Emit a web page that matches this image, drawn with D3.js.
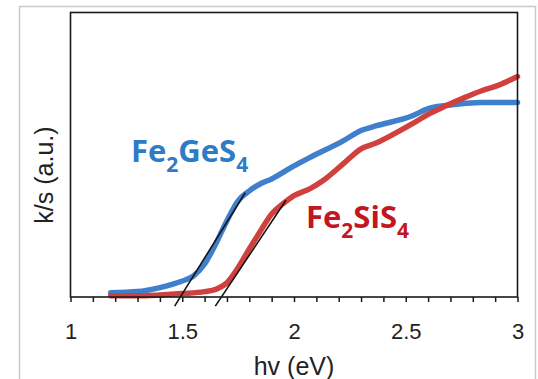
<!DOCTYPE html>
<html>
<head>
<meta charset="utf-8">
<script src="https://cdn.jsdelivr.net/npm/d3@7"></script>
<style>
body { margin: 0; background: #fff; }
svg { display: block; }
</style>
</head>
<body>
<svg id="chart"></svg>
<script>
// values (y in arbitrary units, 0 = baseline)
var geEnergy = [1.18, 1.3, 1.4, 1.5, 1.55, 1.6, 1.65, 1.7, 1.75, 1.8, 1.85, 1.9, 2.0, 2.07, 2.22, 2.3, 2.37, 2.53, 2.6, 2.68, 2.76, 2.84, 3.0];
var geKs = [0.015, 0.019, 0.033, 0.056, 0.074, 0.116, 0.187, 0.268, 0.338, 0.373, 0.398, 0.415, 0.461, 0.49, 0.549, 0.585, 0.602, 0.637, 0.662, 0.673, 0.68, 0.684, 0.684];

var siEnergy = [1.18, 1.3, 1.4, 1.5, 1.6, 1.65, 1.7, 1.75, 1.8, 1.85, 1.9, 1.95, 2.0, 2.07, 2.14, 2.22, 2.3, 2.37, 2.45, 2.53, 2.6, 2.68, 2.76, 2.84, 2.91, 3.0];
var siKs = [0.004, 0.004, 0.007, 0.012, 0.019, 0.027, 0.05, 0.103, 0.169, 0.232, 0.292, 0.327, 0.356, 0.38, 0.415, 0.468, 0.521, 0.542, 0.574, 0.609, 0.642, 0.672, 0.70, 0.725, 0.743, 0.775];

// tangent (band-gap) lines, two end points each
var geTangent = [[1.466, -0.032], [1.782, 0.367]];
var siTangent = [[1.648, -0.032], [1.964, 0.340]];

var xTicks = [1, 1.1, 1.2, 1.3, 1.4, 1.5, 1.6, 1.7, 1.8, 1.9, 2, 2.1, 2.2, 2.3, 2.4, 2.5, 2.6, 2.7, 2.8, 2.9, 3];
var xLabels = [1, 1.5, 2, 2.5, 3];

var svgWidth = 538;
var svgHeight = 379;
var plot = {left: 70.5, right: 517.5, top: 12.5, bottom: 297};

var svg = d3.select("#chart")
  .attr("width", svgWidth)
  .attr("height", svgHeight);

// light outer border
svg.append("rect")
  .attr("x", 19.5).attr("y", 6.5)
  .attr("width", 516).attr("height", 400)
  .attr("fill", "none")
  .attr("stroke", "#c9c9c9")
  .attr("stroke-width", 1.5);

var x = d3.scaleLinear().domain([1, 3]).range([plot.left, plot.right]);
var y = d3.scaleLinear().domain([0, 1]).range([plot.bottom, plot.top]);

var line = d3.line()
  .x(d => x(d[0]))
  .y(d => y(d[1]))
  .curve(d3.curveMonotoneX);

var geData = geEnergy.map((e, i) => [e, geKs[i]]);
var siData = siEnergy.map((e, i) => [e, siKs[i]]);

svg.append("path")
  .datum(geData)
  .attr("d", line)
  .attr("fill", "none")
  .attr("stroke", "#3f7fcb")
  .attr("stroke-width", 5.5)
  .attr("stroke-linecap", "round");

svg.append("path")
  .datum(siData)
  .attr("d", line)
  .attr("fill", "none")
  .attr("stroke", "#d0403f")
  .attr("stroke-width", 5.5)
  .attr("stroke-linecap", "round");

var straight = d3.line().x(d => x(d[0])).y(d => y(d[1]));
[geTangent, siTangent].forEach(function(t) {
  svg.append("path")
    .attr("d", straight(t))
    .attr("fill", "none")
    .attr("stroke", "#111")
    .attr("stroke-width", 1.6);
});

// frame
svg.append("rect")
  .attr("x", plot.left).attr("y", plot.top)
  .attr("width", plot.right - plot.left).attr("height", plot.bottom - plot.top)
  .attr("fill", "none")
  .attr("stroke", "#1a1a1a")
  .attr("stroke-width", 1.6);

var xAxis = d3.axisBottom(x)
  .tickValues(xTicks)
  .tickSize(5)
  .tickSizeOuter(0)
  .tickPadding(21)
  .tickFormat(d => xLabels.some(v => Math.abs(v - d) < 1e-9) ? String(+d.toFixed(1)) : "");

var gx = svg.append("g")
  .attr("transform", `translate(0, ${plot.bottom})`)
  .call(xAxis);
gx.select(".domain").remove();
gx.selectAll("line").attr("stroke", "#1a1a1a").attr("stroke-width", 1.5);
gx.selectAll("text")
  .attr("font-family", "Liberation Sans, Arial, sans-serif")
  .attr("font-size", 22)
  .attr("fill", "#222");

svg.append("text")
  .attr("x", (plot.left + plot.right) / 2)
  .attr("y", 375)
  .attr("text-anchor", "middle")
  .attr("font-family", "Liberation Sans, Arial, sans-serif")
  .attr("font-size", 25)
  .attr("fill", "#222")
  .text("hv (eV)");

svg.append("text")
  .attr("transform", "translate(53, 175) rotate(-90)")
  .attr("text-anchor", "middle")
  .attr("font-family", "Liberation Sans, Arial, sans-serif")
  .attr("font-size", 25)
  .attr("fill", "#222")
  .text("k/s (a.u.)");

// series labels with subscripts
function formula(xPos, yPos, parts, color) {
  var t = svg.append("text")
    .attr("x", xPos).attr("y", yPos)
    .attr("font-family", "Open Sans, sans-serif")
    .attr("font-weight", "bold")
    .attr("font-size", 31)
    .attr("fill", color);
  parts.forEach(function(p) {
    var s = t.append("tspan").text(p.t);
    if (p.sub) {
      s.attr("font-size", 21).attr("dy", 10);
    } else {
      s.attr("dy", p.back ? -10 : 0);
    }
  });
}

formula(131, 162, [
  {t: "Fe"}, {t: "2", sub: true}, {t: "GeS", back: true}, {t: "4", sub: true}
], "#2e7bc6");

formula(306, 228, [
  {t: "Fe"}, {t: "2", sub: true}, {t: "SiS", back: true}, {t: "4", sub: true}
], "#c3161f");
</script>
</body>
</html>
